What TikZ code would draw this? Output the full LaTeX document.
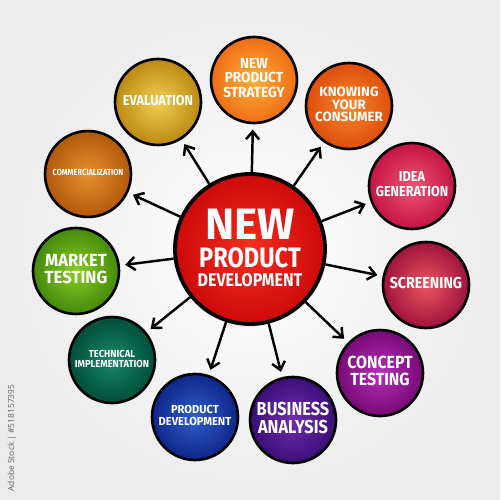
\documentclass[tikz,border=0pt]{standalone}
\usepackage{graphicx}
\usepackage{fontspec}
\setmainfont{Fira Sans}
\newfontfamily\wmfont{Open Sans}
\usetikzlibrary{arrows.meta}
\definecolor{bgout}{RGB}{236,236,236}
\definecolor{cin}{RGB}{245,45,30}\definecolor{cout}{RGB}{205,10,10}
\definecolor{npsin}{RGB}{255,175,60}\definecolor{npsout}{RGB}{240,110,20}
\definecolor{kycin}{RGB}{248,135,45}\definecolor{kycout}{RGB}{222,78,10}
\definecolor{idein}{RGB}{238,85,115}\definecolor{ideout}{RGB}{196,20,68}
\definecolor{scrin}{RGB}{238,85,95}\definecolor{scrout}{RGB}{158,18,60}
\definecolor{conin}{RGB}{185,45,185}\definecolor{conout}{RGB}{118,10,118}
\definecolor{busin}{RGB}{115,45,175}\definecolor{busout}{RGB}{58,14,118}
\definecolor{pdin}{RGB}{45,95,205}\definecolor{pdout}{RGB}{14,38,138}
\definecolor{tiin}{RGB}{25,135,105}\definecolor{tiout}{RGB}{0,78,58}
\definecolor{mtin}{RGB}{135,205,35}\definecolor{mtout}{RGB}{68,138,10}
\definecolor{cmin}{RGB}{232,145,45}\definecolor{cmout}{RGB}{178,88,10}
\definecolor{evin}{RGB}{242,205,80}\definecolor{evout}{RGB}{188,138,20}
\newcommand\lb[4]{\scalebox{#1}[1]{\fontsize{#2}{#3}\selectfont\bfseries\begin{tabular}{@{}c@{}}#4\end{tabular}}}
\begin{document}
\begin{tikzpicture}[x=0.02cm,y=-0.02cm,
  bub/.style={circle, draw=black, line width=1.5pt, minimum size=1.72cm, inner sep=0pt, text=white},
  arr/.style={line width=1.4pt, -{Straight Barb[length=4.5pt,width=7.5pt,line width=1.4pt]}, shorten >=3pt}]
\useasboundingbox (0,0) rectangle (500,500);
\fill[inner color=white, outer color=bgout] (0,0) rectangle (500,500);
\node[circle, draw=black, line width=2.2pt, minimum size=3cm, inner sep=0pt, text=white, inner color=cin, outer color=cout] (c) at (250,249)
 {\fontsize{2}{3}\selectfont\bfseries\begin{tabular}{@{}c@{}}
 {\fontsize{25}{25}\selectfont NEW}\\[3.6pt]
 \scalebox{0.84}[1]{\fontsize{16}{16}\selectfont PRODUCT}\\[2.6pt]
 \scalebox{0.87}[1]{\fontsize{10.5}{10.5}\selectfont DEVELOPMENT}
 \end{tabular}};
\node[bub, inner color=npsin, outer color=npsout] (nps) at (254,80) {\lb{0.93}{8.3}{8}{NEW\\PRODUCT\\STRATEGY}};
\node[bub, inner color=kycin, outer color=kycout] (kyc) at (349,106) {\lb{1}{7.6}{6.6}{KNOWING\\YOUR\\CONSUMER}};
\node[bub, inner color=idein, outer color=ideout] (ide) at (412,186) {\lb{0.88}{8.2}{7.4}{IDEA\\GENERATION}};
\node[bub, inner color=scrin, outer color=scrout] (scr) at (426,285) {\lb{0.9}{9}{9}{SCREENING}};
\node[bub, inner color=conin, outer color=conout] (con) at (380,373) {\lb{0.9}{10}{9}{CONCEPT\\TESTING}};
\node[bub, inner color=busin, outer color=busout] (bus) at (293,420) {\lb{0.87}{10.7}{9}{BUSINESS\\ANALYSIS}};
\node[bub, inner color=pdin, outer color=pdout] (pd) at (195,417) {\lb{0.96}{6.6}{6.6}{PRODUCT\\DEVELOPMENT}};
\node[bub, inner color=tiin, outer color=tiout] (ti) at (112,360) {\lb{0.92}{5.8}{5.2}{TECHNICAL\\IMPLEMENTATION}};
\node[bub, inner color=mtin, outer color=mtout] (mt) at (76,271) {\lb{0.95}{10}{8.5}{MARKET\\TESTING}};
\node[bub, inner color=cmin, outer color=cmout] (cm) at (88,174) {\lb{0.85}{5}{5}{COMMERCIALIZATION}};
\node[bub, inner color=evin, outer color=evout] (ev) at (158,102) {\lb{0.88}{8.2}{8}{EVALUATION}};
\foreach \t in {nps,kyc,ide,scr,con,bus,pd,ti,mt,cm,ev} \draw[arr] (c) -- (\t);
\node[rotate=90, text=black!60, font=\wmfont\fontsize{4.8}{5}\selectfont, inner sep=0pt] (wm) at (12,438) {Adobe Stock | \#518157395};
\end{tikzpicture}
\end{document}
